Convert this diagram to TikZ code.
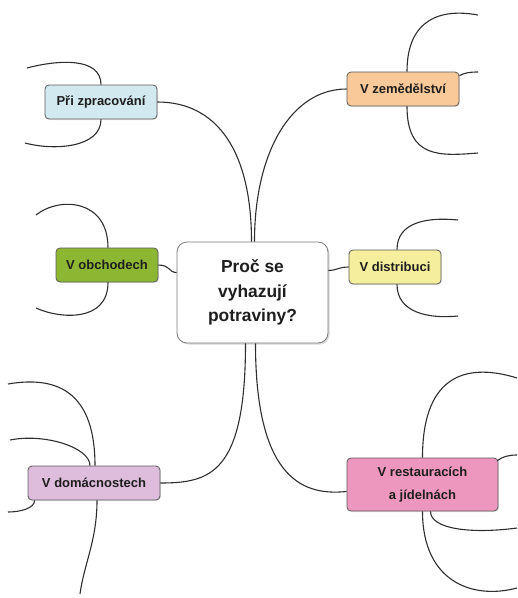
\documentclass[tikz,border=0pt]{standalone}
\usepackage{fontspec}
\setmainfont{Liberation Sans}
\usetikzlibrary{shadows}
\definecolor{boxline}{HTML}{5A5A5A}
\definecolor{txt}{HTML}{1E1E1E}
\definecolor{wire}{HTML}{2E2E2E}
\definecolor{zprfill}{HTML}{D3E9F0}
\definecolor{zemfill}{HTML}{FAC99A}
\definecolor{obchfill}{HTML}{8DB733}
\definecolor{disfill}{HTML}{F5EE9C}
\definecolor{domfill}{HTML}{DDBCDC}
\definecolor{restfill}{HTML}{EE97BE}

\begin{document}
\begin{tikzpicture}[x=1pt, y=-1pt,
    subtopic/.style={draw=boxline, line width=0.8pt, rounded corners=4pt, text=txt,
        font=\fontsize{13}{23}\selectfont\bfseries, inner sep=0pt, minimum height=34pt,
        drop shadow={opacity=0.18, shadow xshift=1pt, shadow yshift=-1pt}},
    maintopic/.style={draw=boxline!80, line width=0.8pt, rounded corners=10pt, fill=white, text=txt,
        font=\fontsize{17.4}{24.5}\selectfont\bfseries, align=center, inner sep=0pt,
        minimum width=151pt, minimum height=101pt,
        drop shadow={opacity=0.3, shadow xshift=1.5pt, shadow yshift=-1.5pt}},
    twig/.style={draw=wire, line width=1.1pt}]
    \useasboundingbox (0,0) rectangle (518,598);

    % CENTRE
    \node[maintopic] (q) at (252.5,292.5) {Proč se\\vyhazují\\potraviny?};

    % SUBTOPICS
    \node[subtopic, fill=zprfill, minimum width=112pt] (zpr) at (101,102) {Při zpracování};
    \node[subtopic, fill=zemfill, minimum width=112pt] (zem) at (403,89) {V zemědělství};
    \node[subtopic, fill=obchfill, minimum width=102pt] (obch) at (107,265) {V obchodech};
    \node[subtopic, fill=disfill, minimum width=92pt] (dis) at (395,267) {V distribuci};
    \node[subtopic, fill=domfill, minimum width=132pt] (dom) at (94,483) {V domácnostech};
    \node[subtopic, fill=restfill, minimum width=151pt, minimum height=53pt, align=center]
        (rest) at (422.5,484.5) {V restauracích\\a jídelnách};

    % Free ends of the leaf branches
    \coordinate (zpr-a) at (27,68);
    \coordinate (zpr-b) at (25,143);
    \coordinate (zem-a) at (478,15);
    \coordinate (zem-b) at (478,72);
    \coordinate (zem-c) at (478,153);
    \coordinate (obch-a) at (36,215);
    \coordinate (obch-b) at (36,308);
    \coordinate (dis-a) at (458,220);
    \coordinate (dis-b) at (458,316);
    \coordinate (dom-a) at (8,384);
    \coordinate (dom-b) at (10,440);
    \coordinate (dom-c) at (8,512);
    \coordinate (dom-d) at (80,594);
    \coordinate (rest-a) at (517,378);
    \coordinate (rest-b) at (517,455);
    \coordinate (rest-c) at (517,528);
    \coordinate (rest-d) at (517,588);

    % Centre to subtopics
    \draw[twig] ([xshift=-1pt]q.north) .. controls +(0,-90) and +(60,0) .. (zpr.east);
    \draw[twig] ([xshift=2pt]q.north) .. controls +(0,-90) and +(-55,0) .. (zem.west);
    \draw[twig] (obch.east) .. controls +(12,0) and +(-8,0) .. ([yshift=20pt]q.west);
    \draw[twig] ([yshift=22pt]q.east) .. controls +(8,0) and +(-10,0) .. (dis.west);
    \draw[twig] ([xshift=-7pt]q.south) .. controls +(0,130) and +(50,0) .. (dom.east);
    \draw[twig] ([xshift=3pt]q.south) .. controls +(0,140) and +(-40,4) .. ([yshift=-7pt]rest.west);

    % Leaf branches
    \draw[twig] (zpr.north) .. controls +(0,-28) and +(30,-8) .. (zpr-a);
    \draw[twig] (zpr.south) .. controls +(0,28) and +(30,8) .. (zpr-b);
    \draw[twig] ([xshift=4pt]zem.north) .. controls +(0,-52) and +(-38,-7) .. (zem-a);
    \draw[twig] ([yshift=-4pt]zem.north east) .. controls +(6,-3) and +(-8,0) .. (zem-b);
    \draw[twig] ([xshift=4pt]zem.south) .. controls +(0,52) and +(-38,3) .. (zem-c);
    \draw[twig] ([xshift=1pt]obch.north) .. controls +(0,-48) and +(24,-19) .. (obch-a);
    \draw[twig] ([xshift=1pt]obch.south) .. controls +(0,40) and +(24,11) .. (obch-b);
    \draw[twig] ([xshift=2pt]dis.north) .. controls +(0,-28) and +(-30,-3) .. (dis-a);
    \draw[twig] ([xshift=2pt]dis.south) .. controls +(0,28) and +(-30,3) .. (dis-b);
    \draw[twig] ([xshift=1pt]dom.north) .. controls +(0,-71) and +(52,-9) .. (dom-a);
    \draw[twig] ([xshift=-4pt]dom.north) .. controls +(0,-18) and +(35,-7) .. (dom-b);
    \draw[twig] ([xshift=7pt]dom.south west) .. controls +(0,8) and +(12,0) .. (dom-c);
    \draw[twig] ([xshift=3pt]dom.south) .. controls +(0,40) and +(4,-30) .. (dom-d);
    \draw[twig] (rest.north) .. controls +(0,-88) and +(-45,-14) .. (rest-a);
    \draw[twig] ([xshift=-1pt,yshift=-3pt]rest.north east) .. controls +(5,-4) and +(-8,0) .. (rest-b);
    \draw[twig] ([xshift=8pt]rest.south) .. controls +(0,18) and +(-45,6) .. (rest-c);
    \draw[twig] (rest.south) .. controls +(0,70) and +(-45,12) .. (rest-d);
\end{tikzpicture}
\end{document}
